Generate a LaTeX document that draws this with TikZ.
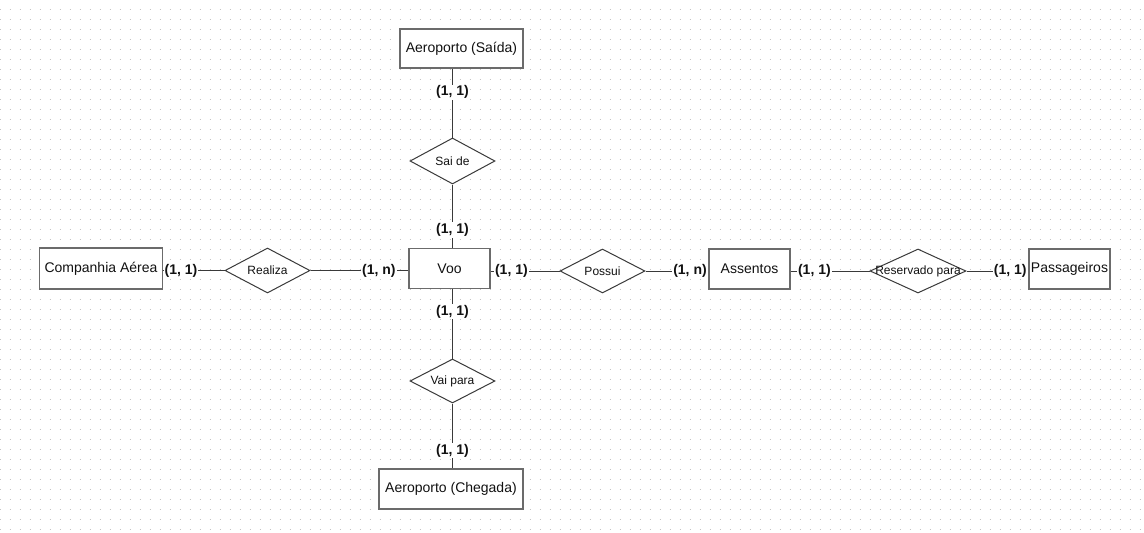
\documentclass[tikz,border=0pt]{standalone}
\usepackage{fontspec}
\setmainfont{Liberation Sans}
\usetikzlibrary{shapes.geometric,calc}
\definecolor{gridc}{HTML}{C4C4C4}
\definecolor{boxc}{HTML}{6B6B6B}
\definecolor{linec}{HTML}{3A3A3A}
\definecolor{txtc}{HTML}{111111}
\tikzset{
  entity/.style={draw=boxc, line width=1.6pt, fill=white, rectangle, inner sep=0pt,
    text=txtc, font=\fontsize{14}{16}\selectfont},
  rel/.style={draw=linec, line width=1pt, fill=white, diamond, inner sep=0pt,
    minimum width=85pt, minimum height=45pt, text=txtc},
  rellabel/.style={label={[text=txtc, font=\fontsize{12}{14}\selectfont, inner sep=0pt]center:#1}},
  conn/.style={draw=linec, line width=1pt},
  card/.style={fill=white, inner sep=1pt, text=txtc,
    font=\fontsize{14}{16}\selectfont\bfseries},
}
\begin{document}
\begin{tikzpicture}[x=1pt,y=-1pt]
\useasboundingbox (0,0) rectangle (1144,533);
\fill[white] (0,0) rectangle (1144,533);
% dotted grid
\foreach \j in {0,...,52}{
  \draw[gridc, line width=1pt, dash pattern=on 1pt off 9pt] (-0.5,{10*\j+9}) -- (1144,{10*\j+9});
}
% entities
\node[entity, minimum width=123pt, minimum height=39pt] (saida) at (461.5,48.5) {Aeroporto (Saída)};
\node[entity, minimum width=123pt, minimum height=41pt] (comp) at (101,268.5) {Companhia Aérea};
\node[entity, minimum width=81pt, minimum height=40pt] (voo) at (449.5,268.5) {Voo};
\node[entity, minimum width=81pt, minimum height=40pt] (assentos) at (749.5,269) {Assentos};
\node[entity, minimum width=81pt, minimum height=40pt] (pass) at (1069.5,269) {Passageiros};
\node[entity, minimum width=144pt, minimum height=40pt] (chegada) at (451,489) {Aeroporto (Chegada)};
% relationships
\node[rel, minimum height=46pt, rellabel={Sai de}] (saide) at (452.5,161) {};
\node[rel, rellabel={Realiza}] (realiza) at (267.5,270.5) {};
\node[rel, minimum height=44pt, rellabel={Possui}] (possui) at (602.5,271) {};
\node[rel, minimum width=96pt, minimum height=44pt, rellabel={Reservado para}] (reserv) at (918,271) {};
\node[rel, minimum height=44pt, rellabel={Vai para}] (vaipara) at (452.5,381) {};
% connectors
\draw[conn] (saide.north |- saida.south) -- node[card, pos=0.34] {(1, 1)} (saide.north);
\draw[conn] (saide.south) -- node[card, pos=0.72] {(1, 1)} (saide.south |- voo.north);
\draw[conn] (vaipara.north |- voo.south) -- node[card, pos=0.32] {(1, 1)} (vaipara.north);
\draw[conn] (vaipara.south) -- node[card, pos=0.73] {(1, 1)} (vaipara.south |- chegada.north);
\draw[conn] (comp.east |- realiza.west) -- node[card, pos=0.29] {(1, 1)} (realiza.west);
\draw[conn] (realiza.east) -- node[card, pos=0.7] {(1, n)} (realiza.east -| voo.west);
\draw[conn] (voo.east |- possui.west) -- node[card, pos=0.3] {(1, 1)} (possui.west);
\draw[conn] (possui.east) -- node[card, pos=0.71] {(1, n)} (possui.east -| assentos.west);
\draw[conn] (assentos.east |- reserv.west) -- node[card, pos=0.3] {(1, 1)} (reserv.west);
\draw[conn] (reserv.east) -- node[card, pos=0.71] {(1, 1)} (reserv.east -| pass.west);
\end{tikzpicture}
\end{document}
